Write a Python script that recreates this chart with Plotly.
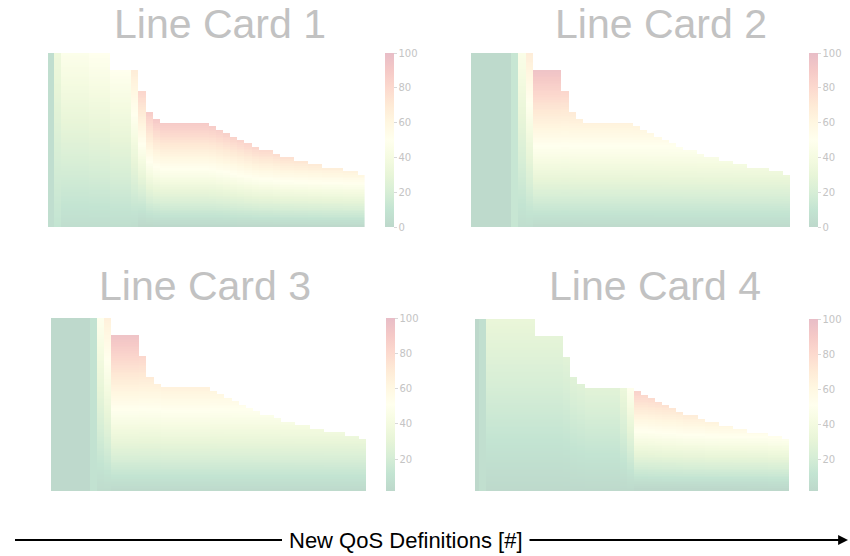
import plotly.graph_objects as go

# ---------------- data ----------------
titles = ["Line Card 1", "Line Card 2", "Line Card 3", "Line Card 4"]
x_label = "New QoS Definitions [#]"

# column heights (same for all four line cards), 45 steps
heights = ([100] * 9 + [90] * 4 + [78, 66, 62] + [60] * 7 +
           [58, 56, 54, 52, 50, 48, 46, 44, 44, 42, 40, 40, 38, 38, 36, 36, 34, 34, 34, 32, 32, 30])

# colour value at the top / bottom of each column
lc1_top = ([5, 35, 47, 47, 47, 47, 50, 50, 50, 50, 50, 50, 68, 82, 88, 90] + [90] * 7 +
           [88, 87, 86, 85, 84, 83, 82, 80, 80, 78, 76, 76, 73, 73, 70, 70, 67, 67, 67, 64, 64, 60])
lc1_bot = [5, 10] + [5] * 10 + [4] + [0] * 32

lc2_top = ([2] * 6 + [12, 45, 68] + [95] * 4 + [82, 70, 66] + [64] * 7 +
           [62, 60, 58, 56, 54, 52, 50, 48, 48, 46, 44, 44, 42, 42, 40, 40, 38, 38, 38, 36, 36, 34])
lc2_bot = [2] * 6 + [12] + [5] * 2 + [2] * 36

lc3_top = ([3] * 6 + [10, 50, 66] + [95] * 4 + [82, 70, 66] + [65] * 7 +
           [62, 60, 58, 56, 54, 52, 50, 48, 48, 46, 44, 44, 42, 42, 40, 40, 38, 38, 38, 36, 36, 34])
lc3_bot = [3] * 6 + [10] + [5] * 2 + [3] * 36

lc4_top = ([2, 8] + [33] * 7 + [30] * 4 + [28, 27, 27] + [28] * 5 + [35, 50] +
           [85, 82, 80, 78, 76, 73, 71, 69, 69, 66, 64, 64, 61, 61, 58, 58, 55, 55, 55, 53, 53, 50])
lc4_bot = [2, 8] + [3] * 21 + [0] * 22

tops = [lc1_top, lc2_top, lc3_top, lc4_top]
bots = [lc1_bot, lc2_bot, lc3_bot, lc4_bot]
zmins = [0, 0, 2, 2]
cb_ticks = [0, 20, 40, 60, 80, 100]

# ---------------- style ----------------
W, H = 850, 556
rdylgn = ['#a50026', '#d73027', '#f46d43', '#fdae61', '#fee08b', '#ffffbf',
          '#d9ef8b', '#a6d96a', '#66bd63', '#1a9850', '#006837'][::-1]
ALPHA = 0.26


def fade(hx, a=ALPHA):
    r, g, b = int(hx[1:3], 16), int(hx[3:5], 16), int(hx[5:7], 16)
    f = lambda c: round(255 * (1 - a) + c * a)
    return f"rgb({f(r)},{f(g)},{f(b)})"


cscale = [[i / (len(rdylgn) - 1), fade(c)] for i, c in enumerate(rdylgn)]

# panel boxes in pixels (left, right, top, bottom), colourbar left, title centre
panels = [
    dict(l=48, r=365, t=53, b=227, cb=385, tx=220, ty=24, xr=[-0.3, 44.5]),
    dict(l=471, r=790, t=53, b=227, cb=809, tx=661, ty=24, xr=[-0.13, 44.5]),
    dict(l=51, r=366, t=318, b=491, cb=386, tx=205, ty=286, xr=[0.03, 44.5]),
    dict(l=475, r=789, t=319, b=491, cb=809, tx=655, ty=286, xr=[0.0, 44.5]),
]

px = lambda v: v / W
py = lambda v: 1 - v / H

rows = [r + 0.5 for r in range(100)]
cols = list(range(len(heights)))

fig = go.Figure()
annotations = []
for i, p in enumerate(panels):
    z = []
    for yc in rows:
        row = []
        for c in cols:
            h = heights[c]
            if yc < h:
                row.append(bots[i][c] + (tops[i][c] - bots[i][c]) * yc / h)
            else:
                row.append(None)
        z.append(row)
    ax = "" if i == 0 else str(i + 1)
    fig.add_trace(go.Heatmap(
        x=cols, y=rows, z=z, xaxis="x" + ax, yaxis="y" + ax,
        colorscale=cscale, zmin=zmins[i], zmax=100, hoverinfo="skip",
        colorbar=dict(
            x=px(p["cb"]), xanchor="left", y=py(p["t"]), yanchor="top",
            len=(p["b"] - p["t"]) / H, lenmode="fraction", thickness=9,
            outlinewidth=0, xpad=0, ypad=0,
            tickvals=cb_ticks, ticks="outside", ticklen=3, tickcolor="#d8d8d8",
            tickfont=dict(family="DejaVu Sans", size=10, color="#c4c4c4"),
        ),
    ))
    fig.update_layout(**{
        "xaxis" + ax: dict(domain=[px(p["l"]), px(p["r"])], range=p["xr"], visible=False,
                           anchor="y" + ax),
        "yaxis" + ax: dict(domain=[py(p["b"]), py(p["t"])], range=[0, 100], visible=False,
                           anchor="x" + ax),
    })
    annotations.append(dict(
        text=titles[i], x=px(p["tx"]), y=py(p["ty"]), xref="paper", yref="paper",
        xanchor="center", yanchor="middle", showarrow=False,
        font=dict(family="Arial", size=41, color="#c2c2c2"),
    ))

# bottom axis label with lines and arrow
ly = py(540)
annotations.append(dict(
    text=x_label, x=px(406), y=ly, xref="paper", yref="paper",
    xanchor="center", yanchor="middle", showarrow=False,
    font=dict(family="Arial", size=22, color="black"),
))
annotations.append(dict(
    text="", x=px(848), y=ly, xref="paper", yref="paper",
    ax=-320, ay=0, showarrow=True, arrowhead=2, arrowsize=1.1,
    arrowwidth=1.8, arrowcolor="black",
))
shapes = [dict(type="line", xref="paper", yref="paper", x0=px(15), x1=px(282),
               y0=ly, y1=ly, line=dict(color="black", width=1.8))]

fig.update_layout(
    width=W, height=H, margin=dict(l=0, r=0, t=0, b=0),
    paper_bgcolor="white", plot_bgcolor="white",
    annotations=annotations, shapes=shapes, showlegend=False,
)

fig.write_html("out.html", config={"displayModeBar": False},
               post_script="document.body.style.margin='0';document.body.style.padding='0';")
